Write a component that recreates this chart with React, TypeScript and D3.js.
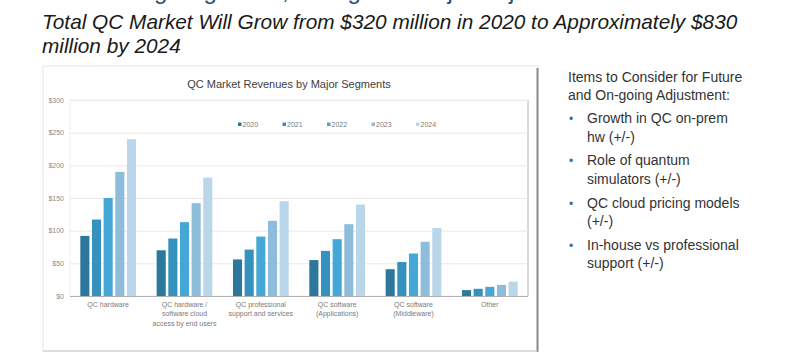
import React, {useEffect, useRef} from 'react';
import * as d3 from 'd3';

const segments = [
  'QC hardware',
  'QC hardware / software cloud access by end users',
  'QC professional support and services',
  'QC software (Applications)',
  'QC software (Middleware)',
  'Other',
];
const segmentLabelLines = [
  ['QC hardware'],
  ['QC hardware /', 'software cloud', 'access by end users'],
  ['QC professional', 'support and services'],
  ['QC software', '(Applications)'],
  ['QC software', '(Middleware)'],
  ['Other'],
];
const years = ['2020', '2021', '2022', '2023', '2024'];
const values2020 = [92, 70, 56, 55, 41, 9];
const values2021 = [117, 88, 71, 69, 52, 11];
const values2022 = [150, 113, 91, 87, 65, 14];
const values2023 = [190, 142, 115, 110, 83, 17];
const values2024 = [240, 181, 145, 140, 104, 22];
const seriesValues = [values2020, values2021, values2022, values2023, values2024];
const yTicks = [0, 50, 100, 150, 200, 250, 300];
const yearColors = ['#2c789c', '#3592be', '#45a7d6', '#8ebddb', '#b9d6ea'];

const notesHeader = ['Items to Consider for Future', 'and On-going Adjustment:'];
const notes = [
  ['Growth in QC on-prem', 'hw (+/-)'],
  ['Role of quantum', 'simulators (+/-)'],
  ['QC cloud pricing models', '(+/-)'],
  ['In-house vs professional', 'support (+/-)'],
];

const W = 800;
const H = 352;
const FONT = '"Liberation Sans", Arial, sans-serif';

const App: React.FC = () => {
  const svgRef = useRef<SVGSVGElement | null>(null);

  useEffect(() => {
    if (!svgRef.current) return;
    const svg = d3.select(svgRef.current);
    svg.selectAll('*').remove();
    svg.style('font-family', FONT);

    // slide header, cut off at the top edge like in the source slide
    svg
      .append('text')
      .attr('x', 42)
      .attr('y', -1)
      .attr('font-size', 24)
      .attr('fill', '#1f4e79')
      .text('Forecasting Segments, Sizing and Major Adjustments');

    const title = svg
      .append('text')
      .attr('font-size', 20.8)
      .attr('font-style', 'italic')
      .attr('fill', '#1a1a1a');
    title.append('tspan').attr('x', 42).attr('y', 29)
      .text('Total QC Market Will Grow from $320 million in 2020 to Approximately $830');
    title.append('tspan').attr('x', 42).attr('y', 53).text('million by 2024');

    // chart frame
    svg.append('rect')
      .attr('x', 43).attr('y', 66).attr('width', 495).attr('height', 285)
      .attr('fill', '#fff').attr('stroke', '#e6e6e6').attr('stroke-width', 1);
    svg.append('line')
      .attr('x1', 537.5).attr('x2', 537.5).attr('y1', 68).attr('y2', 352)
      .attr('stroke', '#8a8a8a').attr('stroke-width', 2);
    svg.append('line')
      .attr('x1', 43).attr('x2', 538).attr('y1', 351).attr('y2', 351)
      .attr('stroke', '#c8c8c8').attr('stroke-width', 1);

    const left = 70;
    const right = 528;
    const top = 100;
    const bottom = 296;

    svg.append('text')
      .attr('x', 289).attr('y', 88)
      .attr('text-anchor', 'middle')
      .attr('font-size', 11)
      .attr('fill', '#404040')
      .text('QC Market Revenues by Major Segments');

    // plot area shadow
    svg.append('rect')
      .attr('x', left).attr('y', top).attr('width', right - left).attr('height', bottom - top)
      .attr('fill', 'none').attr('stroke', '#efefef');
    svg.append('line')
      .attr('x1', right).attr('x2', right).attr('y1', top).attr('y2', bottom)
      .attr('stroke', '#cfcfcf').attr('stroke-width', 1.5);

    const x = d3.scaleBand<string>().domain(segments).range([left, right])
      .paddingInner(0.27).paddingOuter(0.135);
    const xInner = d3.scaleBand<string>().domain(years).range([0, x.bandwidth()])
      .paddingInner(0.22);
    const y = d3.scaleLinear().domain([0, 300]).range([bottom, top]);

    const yAxis = d3.axisLeft(y).tickValues(yTicks).tickSize(-(right - left))
      .tickFormat((d) => `$${d}`);
    const yAxisNode = svg.append('g')
      .attr('transform', `translate(${left},0)`)
      .call(yAxis);
    yAxisNode.select('.domain').remove();
    yAxisNode.selectAll('.tick line').attr('stroke', '#e8e8e8');
    yAxisNode.selectAll('.tick text')
      .attr('x', -6)
      .attr('fill', '#8a8a8a')
      .attr('font-size', 7)
      .attr('font-family', FONT);

    // bars
    const groups = svg.append('g').selectAll('g.year')
      .data(years)
      .enter()
      .append('g')
      .attr('fill', (_d, i) => yearColors[i]);
    groups.selectAll('rect')
      .data((yr, i) => seriesValues[i].map((v, j) => ({yr, v, seg: segments[j]})))
      .enter()
      .append('rect')
      .attr('x', (d) => x(d.seg)! + xInner(d.yr)!)
      .attr('width', xInner.bandwidth())
      .attr('y', (d) => y(d.v))
      .attr('height', (d) => bottom - y(d.v));

    // baseline
    svg.append('line')
      .attr('x1', left).attr('x2', right).attr('y1', bottom + 0.5).attr('y2', bottom + 0.5)
      .attr('stroke', '#b0b0b0');

    // category labels
    segments.forEach((seg, i) => {
      const t = svg.append('text')
        .attr('text-anchor', 'middle')
        .attr('font-size', 7)
        .attr('fill', '#7a7a7a');
      segmentLabelLines[i].forEach((line, k) => {
        t.append('tspan')
          .attr('x', x(seg)! + x.bandwidth() / 2)
          .attr('y', 307 + k * 9.3)
          .text(line);
      });
    });

    // legend
    const legend = svg.append('g');
    years.forEach((yr, i) => {
      const lx = 238 + i * 44.5;
      legend.append('rect')
        .attr('x', lx).attr('y', 122.5).attr('width', 3.5).attr('height', 3.5)
        .attr('fill', yearColors[i]);
      legend.append('text')
        .attr('x', lx + 4.5).attr('y', 127)
        .attr('font-size', 7)
        .attr('fill', '#7a7a7a')
        .text(yr);
    });

    // notes panel
    const notesG = svg.append('g').attr('font-size', 14).attr('fill', '#333');
    notesHeader.forEach((line, i) => {
      notesG.append('text').attr('x', 568).attr('y', 82 + i * 18).text(line);
    });
    notes.forEach((item, i) => {
      const by = 123 + i * 42.3;
      notesG.append('text').attr('x', 569).attr('y', by).attr('fill', '#4a6a8a')
        .attr('font-size', 12).text('•');
      item.forEach((line, k) => {
        notesG.append('text').attr('x', 587).attr('y', by + k * 18.5).text(line);
      });
    });
  }, []);

  return (
    <svg
      ref={svgRef}
      width={W}
      height={H}
      style={{position: 'absolute', left: 0, top: 0, background: '#fff'}}
    />
  );
};

export default App;
